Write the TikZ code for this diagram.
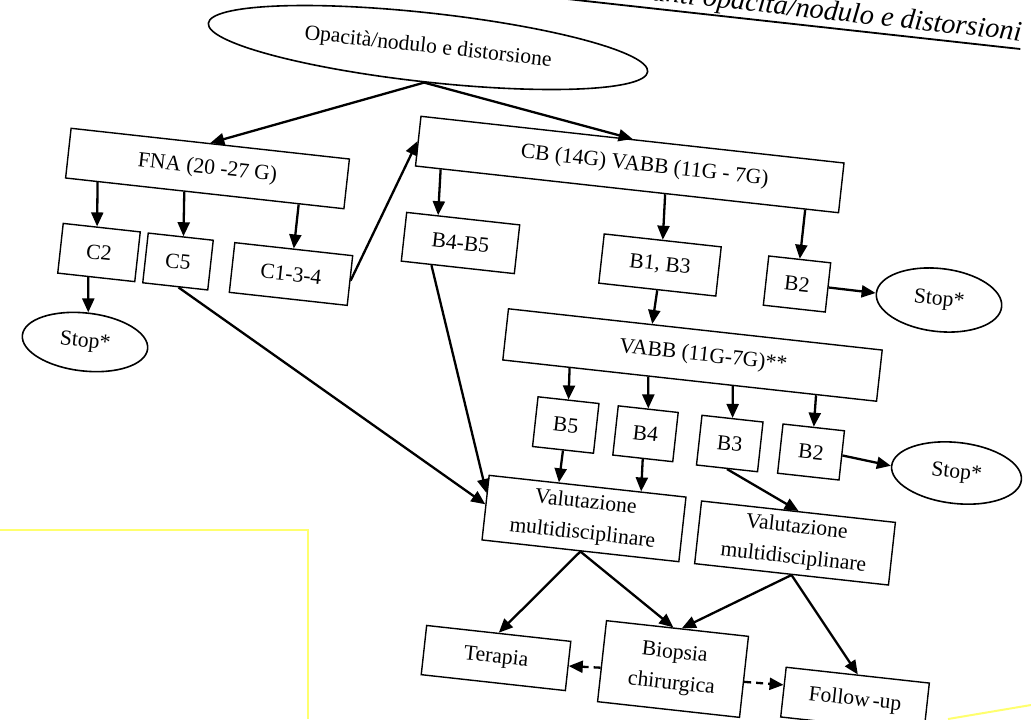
\documentclass[tikz,border=0pt]{standalone}
\usepackage{fontspec}
\setmainfont{Liberation Serif}
\usetikzlibrary{arrows.meta,shapes.geometric,calc}
\definecolor{hiyel}{RGB}{255,255,110}
\begin{document}
\begin{tikzpicture}[x=0.5pt,y=-0.5pt,
  every node/.style={rotate=-6.3, font=\fontsize{10.8}{15.5}\selectfont, inner sep=0pt, align=center},
  box/.style={draw, line width=0.7pt, rectangle},
  oval/.style={draw, line width=0.8pt, ellipse},
  arr/.style={line width=1.15pt, -{Triangle[length=7pt,width=6pt]}},
  darr/.style={arr, dash pattern=on 3.5pt off 2.5pt}]
\useasboundingbox (0,0) rectangle (1031,719);
\clip (0,0) rectangle (1031,719);
\fill[white] (0,0) rectangle (1031,719);
% yellow highlight lines
\draw[hiyel, line width=1pt] (0,530) -- (308,530) -- (308,719);
\draw[hiyel, line width=1pt] (948,719) -- (1031,705);
% title
\node[font=\fontsize{14.2}{18}\selectfont\itshape, anchor=base east] (T) at (1021,41) {rappresentanti opacità/nodulo e distorsioni};
\draw[line width=0.9pt] ([yshift=-0.8pt]T.south west) -- ([yshift=-0.8pt]T.south east);
% nodes
\node[oval, minimum width=221pt, minimum height=34.5pt] (E0) at (428,47.5) {Opacità/nodulo e distorsione};
\node[box, minimum width=140pt, minimum height=25pt] (FNA) at (207.5,168.5) {FNA (20 -27 G)};
\node[box, minimum width=38.75pt, minimum height=25pt] (C2) at (99,252.5) {C2};
\node[box, minimum width=32.7pt, minimum height=25pt] (C5) at (178,261.5) {C5};
\node[box, minimum width=59.3pt, minimum height=25pt] (C134) at (291,274) {C1-3-4};
\node[oval, minimum width=63pt, minimum height=29pt] (StopL) at (85,342) {Stop*};
\node[box, minimum width=212.8pt, minimum height=25pt] (CB) at (629.75,164.5) {\hspace*{15pt}CB (14G) VABB (11G - 7G)};
\node[box, minimum width=56.85pt, minimum height=24.5pt] (B45) at (460.5,243) {B4-B5};
\node[box, minimum width=58.85pt, minimum height=24.75pt] (B13) at (660,265) {B1, B3};
\node[box, minimum width=31.15pt, minimum height=24.75pt] (B2a) at (797,284) {B2};
\node[oval, minimum width=63pt, minimum height=31.5pt] (StopA) at (939,300) {Stop*};
\node[box, minimum width=188pt, minimum height=25.75pt] (VABB) at (692.5,355) {\hspace*{10.7pt}VABB (11G-7G)**};
\node[box, minimum width=30.65pt, minimum height=25pt] (B5) at (565.75,425) {B5};
\node[box, minimum width=30.15pt, minimum height=24.75pt] (B4) at (645.5,433.75) {B4};
\node[box, minimum width=30.7pt, minimum height=25pt] (B3) at (729.75,443.5) {B3};
\node[box, minimum width=30.9pt, minimum height=24.75pt] (B2b) at (811,452) {B2};
\node[oval, minimum width=65.25pt, minimum height=30.5pt] (StopB) at (956.5,473) {Stop*};
\node[box, minimum width=99pt, minimum height=32.5pt] (Val1) at (584,518.5) {Valutazione\\multidisciplinare};
\node[box, minimum width=97.5pt, minimum height=31.5pt] (Val2) at (795,543) {Valutazione\\multidisciplinare};
\node[box, minimum width=72.5pt, minimum height=24.75pt] (Terapia) at (496,658) {Terapia};
\node[box, minimum width=71.4pt, minimum height=40.75pt] (Biopsia) at (673,669) {Biopsia\\chirurgica};
\node[box, minimum width=72pt, minimum height=25pt] (Follow) at (855,700) {Follow\kern1.5pt-up};
% connectors
\draw[arr] (E0.south) -- (FNA.north);
\draw[arr] (E0.south) -- (CB.north);
\draw[arr] ($(FNA.south west)!0.117!(FNA.south east)$) -- ($(C2.north west)!0.44!(C2.north east)$);
\draw[arr] ($(FNA.south west)!0.427!(FNA.south east)$) -- ($(C5.north west)!0.54!(C5.north east)$);
\draw[arr] ($(FNA.south west)!0.836!(FNA.south east)$) -- (C134.north);
\draw[arr] ($(C2.south west)!0.4!(C2.south east)$) -- (StopL.north);
\draw[arr] ($(C5.south west)!0.55!(C5.south east)$) -- ($(Val1.north west)!0.45!(Val1.south west)$);
\draw[arr] (C134.east) -- (CB.west);
\draw[arr] ($(CB.south west)!0.061!(CB.south east)$) -- ($(B45.north west)!0.28!(B45.north east)$);
\draw[arr] ($(CB.south west)!0.59!(CB.south east)$) -- (B13.north);
\draw[arr] ($(CB.south west)!0.92!(CB.south east)$) -- (B2a.north);
\draw[arr] (B2a.east) -- (StopA.west);
\draw[arr] (B13.south) -- ($(VABB.north west)!0.385!(VABB.north east)$);
\draw[arr] ($(B45.south west)!0.27!(B45.south east)$) -- ($(Val1.north west)!0.28!(Val1.south west)$);
\draw[arr] ($(VABB.south west)!0.18!(VABB.south east)$) -- (B5.north);
\draw[arr] ($(VABB.south west)!0.39!(VABB.south east)$) -- (B4.north);
\draw[arr] ($(VABB.south west)!0.615!(VABB.south east)$) -- (B3.north);
\draw[arr] ($(VABB.south west)!0.837!(VABB.south east)$) -- (B2b.north);
\draw[arr] (B2b.east) -- (StopB.west);
\draw[arr] (B5.south) -- ($(Val1.north west)!0.355!(Val1.north east)$);
\draw[arr] (B4.south) -- ($(Val1.north west)!0.77!(Val1.north east)$);
\draw[arr] (B3.south) -- (Val2.north);
\draw[arr] (Val1.south) -- (Terapia.north);
\draw[arr] (Val1.south) -- ($(Biopsia.north west)!0.47!(Biopsia.north east)$);
\draw[arr] (Val2.south) -- ($(Biopsia.north west)!0.53!(Biopsia.north east)$);
\draw[arr] (Val2.south) -- (Follow.north);
\draw[darr] ($(Biopsia.north west)!0.58!(Biopsia.south west)$) -- (Terapia.east);
\draw[darr] ($(Biopsia.north east)!0.56!(Biopsia.south east)$) -- ($(Follow.north west)!0.36!(Follow.south west)$);
\end{tikzpicture}
\end{document}
